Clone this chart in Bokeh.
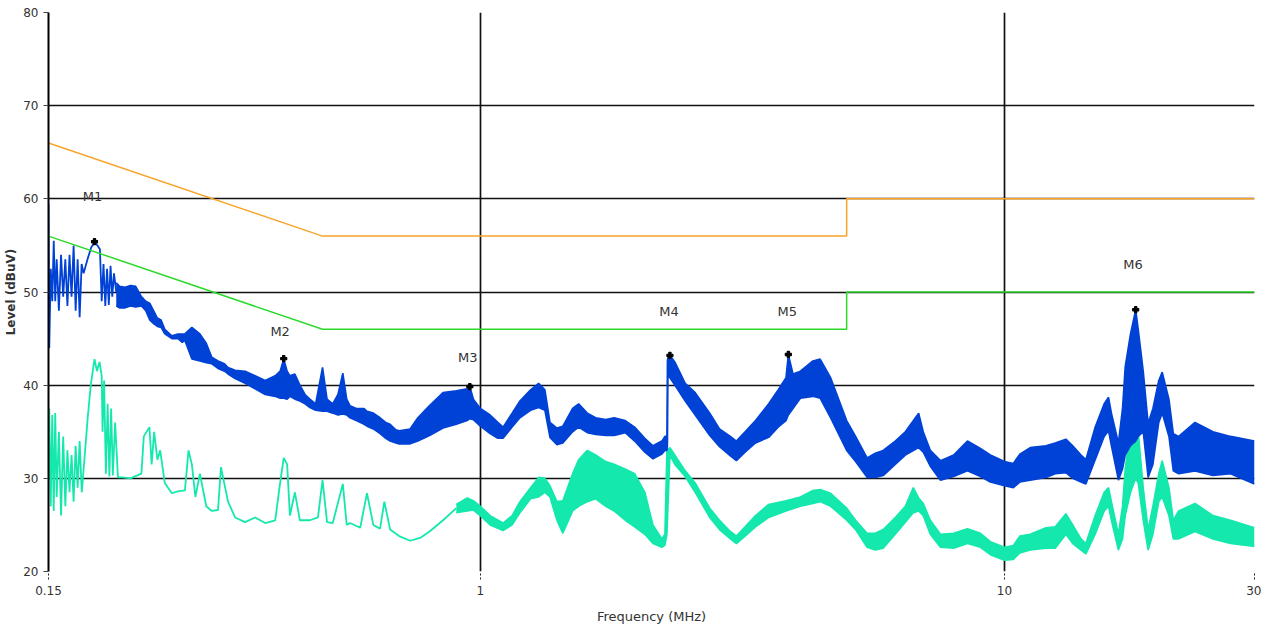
from bokeh.plotting import figure
from bokeh.models import FixedTicker, Range1d
from bokeh.embed import file_html
from bokeh.resources import INLINE
from bokeh.core.properties import value

FONT = "DejaVu Sans"
TXT = "#333333"

# ---------------- data ----------------
x_ticks = [0.15, 1, 10, 30]
x_tick_labels = ["0.15", "1", "10", "30"]
y_ticks = [20, 30, 40, 50, 60, 70, 80]

# limit lines (MHz, dBuV)
limit_f = [0.15, 0.5, 5.0, 5.0, 30.0]
qp_limit = [66, 56, 56, 60, 60]
av_limit = [56, 46, 46, 50, 50]

# peak trace (blue): low-frequency single-valued part
blue_zig_f = [0.1500, 0.1505, 0.1515, 0.1525, 0.1535, 0.1545, 0.1555, 0.1570, 0.1585, 0.1600,
              0.1615, 0.1630, 0.1645, 0.1660, 0.1675, 0.1690, 0.1705, 0.1720, 0.1735, 0.1750,
              0.1780, 0.1810, 0.1836, 0.1860, 0.1880, 0.1895, 0.1910, 0.1925, 0.1940, 0.1955,
              0.1970, 0.1985, 0.2000, 0.2020]
blue_zig_db = [59.5, 44.0, 52.5, 49.0, 55.5, 49.0, 53.5, 48.0, 54.0, 49.5,
               53.5, 48.5, 54.0, 49.5, 55.0, 48.0, 53.5, 47.3, 53.0, 52.0,
               53.5, 54.8, 55.3, 55.0, 54.6, 49.0, 53.0, 48.5, 52.5, 48.6,
               52.8, 49.5, 52.0, 50.0]

# peak trace (blue): band part, low and high envelope
blue_f = [0.202, 0.205, 0.210, 0.215, 0.220, 0.2256, 0.230, 0.234, 0.238, 0.242,
          0.246, 0.250, 0.2579, 0.265, 0.270, 0.2731, 0.2816, 0.2917, 0.300, 0.3074,
          0.3159, 0.325, 0.3301, 0.3405, 0.3558, 0.3718, 0.3886, 0.4061, 0.415, 0.4216,
          0.428, 0.4332, 0.4428, 0.4526, 0.463, 0.473, 0.485, 0.500, 0.510, 0.5229,
          0.535, 0.5466, 0.556, 0.564, 0.580, 0.600, 0.6078, 0.625, 0.6437, 0.660,
          0.6728, 0.690, 0.700, 0.7345, 0.760, 0.800, 0.849, 0.900, 0.9438, 0.955,
          0.970, 1.000, 1.044, 1.080, 1.105, 1.150, 1.190, 1.247, 1.292, 1.328,
          1.358, 1.400, 1.437, 1.500, 1.540, 1.600, 1.660, 1.735, 1.800, 1.890,
          1.970, 2.060, 2.135, 2.220, 2.250, 2.270, 2.275, 2.280, 2.300, 2.350,
          2.460, 2.570, 2.740, 2.860, 3.000, 3.080, 3.200, 3.350, 3.550, 3.700,
          3.830, 3.870, 3.950, 4.080, 4.310, 4.450, 4.660, 5.000, 5.200, 5.470,
          5.670, 5.870, 6.190, 6.470, 6.860, 7.000, 7.220, 7.550, 8.000, 8.500,
          9.000, 9.400, 10.00, 10.40, 10.70, 11.20, 12.00, 12.50, 13.10, 13.50,
          14.00, 14.30, 14.90, 15.50, 15.80, 16.00, 16.50, 16.80, 17.00, 17.40,
          17.80, 18.00, 18.40, 18.80, 19.20, 19.70, 20.00, 20.60, 21.00, 21.50,
          23.10, 25.00, 27.00, 30.00]
blue_lo = [48.5, 48.3, 48.3, 48.5, 48.4, 48.5, 48.0, 47.0, 46.6, 46.3,
           46.2, 45.5, 45.0, 45.0, 44.6, 44.8, 42.8, 42.6, 42.4, 42.3,
           41.8, 41.5, 41.2, 40.7, 40.2, 39.6, 39.0, 38.8, 38.6, 38.6,
           38.5, 38.8, 38.5, 38.3, 38.0, 37.6, 37.3, 37.2, 37.2, 37.0,
           36.8, 36.9, 36.8, 36.5, 36.2, 35.8, 35.6, 35.3, 34.8, 34.3,
           34.0, 33.8, 33.7, 33.7, 34.0, 34.6, 35.4, 35.8, 36.2, 36.4,
           36.3, 35.6, 34.8, 34.3, 34.3, 35.5, 36.5, 37.3, 37.6, 37.3,
           34.4, 33.6, 33.8, 35.0, 35.5, 34.9, 34.7, 34.6, 34.6, 34.9,
           34.0, 32.8, 32.1, 32.6, 33.0, 33.0, 33.5, 41.0, 40.8, 40.0,
           38.3, 36.8, 34.6, 33.4, 32.4, 31.9, 32.8, 33.8, 34.4, 35.5,
           36.2, 36.8, 37.5, 38.6, 38.8, 38.6, 36.5, 33.0, 31.8, 30.1,
           30.1, 30.3, 31.5, 32.5, 33.3, 32.8, 31.3, 29.8, 30.2, 30.8,
           30.2, 29.6, 29.2, 29.0, 29.6, 29.8, 30.1, 30.5, 30.6, 30.0,
           29.6, 29.4, 32.0, 34.5, 35.1, 33.5, 29.8, 31.0, 32.5, 33.5,
           34.0, 34.5, 35.0, 30.1, 31.5, 36.0, 37.0, 34.5, 30.8, 30.5,
           30.8, 30.3, 30.5, 29.4]
blue_hi = [51.0, 50.6, 50.5, 50.7, 50.6, 49.5, 49.0, 48.8, 48.0, 47.2,
           47.0, 46.0, 45.3, 45.5, 45.5, 45.5, 46.2, 45.5, 44.5, 43.0,
           42.6, 42.3, 41.9, 41.6, 41.5, 41.0, 40.5, 41.0, 41.5, 42.8,
           41.5, 41.0, 41.2, 40.0, 39.0, 38.5, 38.0, 41.9, 38.5, 38.0,
           39.0, 41.3, 38.5, 37.8, 37.5, 37.5, 37.2, 37.0, 36.5, 36.0,
           35.8, 35.2, 35.1, 35.3, 36.5, 37.8, 39.2, 39.4, 39.6, 39.85,
           38.5, 37.5, 36.8, 36.0, 35.5, 37.0, 38.3, 39.5, 40.2, 39.5,
           36.0, 35.4, 35.6, 37.5, 38.0, 37.0, 36.5, 36.3, 36.5, 36.2,
           35.5, 34.3, 33.5, 34.0, 34.5, 34.5, 42.6, 43.0, 43.2, 42.5,
           40.2, 39.2, 37.0, 35.3, 34.5, 34.0, 35.0, 36.2, 38.0, 39.5,
           40.8, 43.3, 41.2, 41.5, 42.6, 42.8, 40.8, 36.2, 34.5, 32.2,
           32.7, 33.0, 34.0, 35.0, 37.0, 35.0, 33.0, 31.9, 32.5, 34.0,
           33.2, 32.5, 31.8, 31.6, 32.6, 33.3, 33.5, 33.8, 34.2, 33.5,
           32.5, 32.0, 35.5, 38.0, 38.7, 37.0, 33.8, 37.5, 42.0, 45.5,
           48.1, 46.0, 41.5, 35.9, 37.5, 40.5, 41.4, 38.5, 34.8, 34.5,
           36.0, 35.0, 34.5, 34.0]

# average trace (cyan): low-frequency single-valued part
cyan_zig_f = [0.1500, 0.1505, 0.1515, 0.1525, 0.1535, 0.1545, 0.1555, 0.1570, 0.1585, 0.1600,
              0.1615, 0.1630, 0.1645, 0.1660, 0.1675, 0.1690, 0.1705, 0.1720, 0.1736, 0.1759,
              0.1782, 0.1806, 0.1836, 0.1856, 0.1877, 0.1895, 0.1902, 0.1915, 0.1930, 0.1945,
              0.1960, 0.1975, 0.1990, 0.2010, 0.2035, 0.2076, 0.2150, 0.2256, 0.2280, 0.2337,
              0.2360, 0.2386, 0.2420, 0.2450, 0.2500, 0.2579, 0.2648, 0.2731, 0.2775, 0.2816,
              0.2860, 0.2917, 0.3000, 0.3074, 0.3159, 0.3200, 0.3301, 0.3405, 0.3558, 0.3718,
              0.3886, 0.4061, 0.4150, 0.4216, 0.4280, 0.4332, 0.4428, 0.4526, 0.4730, 0.4900,
              0.5000, 0.5100, 0.5229, 0.5466, 0.5560, 0.5640, 0.5900, 0.6078, 0.6250, 0.6437,
              0.6560, 0.6728, 0.7000, 0.7345, 0.7675, 0.8000, 0.8490, 0.9000]
cyan_zig_db = [30.0, 37.5, 27.0, 36.8, 26.5, 37.0, 28.0, 35.0, 26.0, 34.5,
               27.0, 33.0, 28.5, 32.5, 27.5, 33.5, 29.0, 34.0, 28.5, 32.5,
               36.5, 40.0, 42.8, 41.5, 42.5, 41.0, 35.0, 40.5, 30.5, 38.0,
               30.2, 37.5, 30.3, 36.0, 30.1, 30.1, 30.0, 30.5, 34.5, 35.5,
               31.5, 35.0, 32.0, 33.0, 29.5, 28.4, 28.6, 28.7, 33.0, 31.5,
               28.0, 30.5, 27.0, 26.5, 26.6, 31.2, 27.5, 25.8, 25.3, 25.8,
               25.2, 25.5, 29.5, 32.2, 31.5, 26.0, 28.5, 25.5, 25.5, 25.8,
               29.8, 25.3, 25.2, 29.4, 25.0, 25.2, 24.7, 28.4, 25.0, 24.6,
               27.5, 24.5, 23.8, 23.3, 23.6, 24.3, 25.5, 26.8]

# average trace (cyan): band part
cyan_f = [0.9000, 0.9438, 0.970, 1.000, 1.044, 1.105, 1.150, 1.190, 1.247, 1.292,
          1.328, 1.358, 1.400, 1.437, 1.500, 1.540, 1.600, 1.660, 1.735, 1.800,
          1.890, 1.970, 2.060, 2.135, 2.220, 2.250, 2.270, 2.300, 2.350, 2.460,
          2.570, 2.740, 2.860, 3.000, 3.080, 3.200, 3.350, 3.550, 3.830, 4.080,
          4.310, 4.450, 4.660, 5.000, 5.200, 5.470, 5.670, 5.870, 6.190, 6.470,
          6.700, 6.860, 7.000, 7.220, 7.550, 8.000, 8.500, 9.000, 9.400, 10.00,
          10.40, 10.70, 11.20, 12.00, 12.50, 13.10, 13.50, 14.00, 14.30, 14.90,
          15.50, 15.80, 16.00, 16.50, 16.80, 17.00, 17.40, 17.80, 18.00, 18.40,
          18.80, 19.20, 19.70, 20.00, 20.60, 21.00, 21.50, 23.10, 25.00, 27.00,
          30.00]
cyan_lo = [26.3, 26.5, 26.6, 26.0, 25.0, 24.4, 25.0, 26.3, 27.8, 28.0,
           28.5, 28.0, 25.5, 24.1, 26.5, 27.0, 27.5, 27.8, 27.0, 26.5,
           25.5, 24.8, 24.0, 23.0, 22.6, 22.8, 24.0, 32.5, 31.5, 30.2,
           28.5, 25.8, 24.5, 23.5, 23.0, 23.8, 24.8, 25.8, 26.5, 27.0,
           27.3, 27.5, 27.0, 25.5, 24.5, 22.6, 22.3, 22.5, 24.0, 25.3,
           26.3, 26.5, 26.0, 24.0, 22.6, 22.5, 23.0, 22.6, 21.8, 21.2,
           21.3, 22.0, 22.3, 22.5, 22.5, 24.0, 23.0, 22.3, 21.9, 24.0,
           26.5, 27.0, 25.5, 22.3, 23.5, 26.0, 28.5, 30.0, 29.5, 25.5,
           22.3, 24.0, 27.5, 28.0, 26.0, 23.5, 23.5, 24.3, 23.5, 23.0,
           22.7]
cyan_hi = [27.2, 27.9, 27.6, 27.0, 26.0, 25.2, 26.0, 27.5, 29.0, 30.1,
           30.0, 29.2, 27.5, 27.6, 30.5, 32.0, 33.0, 32.5, 31.8, 31.5,
           31.0, 30.5, 28.5, 25.0, 23.5, 24.0, 33.0, 33.3, 32.5, 30.8,
           29.5, 26.8, 25.5, 24.3, 23.8, 24.8, 26.0, 27.2, 27.6, 28.0,
           28.7, 28.8, 28.4, 26.8, 25.5, 24.1, 24.1, 24.5, 25.8, 27.0,
           29.0, 27.9, 27.3, 25.5, 24.0, 24.1, 24.6, 24.1, 23.2, 22.6,
           22.8, 23.8, 24.0, 24.7, 24.8, 26.2, 25.0, 23.5, 23.0, 26.0,
           28.5, 29.0, 27.5, 24.0, 27.0, 31.0, 35.5, 37.6, 35.0, 29.0,
           24.5, 27.0, 30.5, 31.9, 29.0, 25.5, 26.5, 27.3, 26.0, 25.5,
           24.7]

# markers
mk_names = ["M1", "M2", "M3", "M4", "M5", "M6"]
mk_f = [0.1836, 0.4216, 0.955, 2.30, 3.87, 17.8]
mk_db = [55.4, 42.85, 39.85, 43.2, 43.3, 48.1]
mk_label_f = [0.182, 0.415, 0.946, 2.29, 3.85, 17.6]
mk_label_db = [60.3, 45.75, 43.0, 47.9, 47.9, 52.9]

BLUE = "#0042D6"
CYAN = "#14E8AC"
ORANGE = "#F8A42A"
GREEN = "#2CDA2C"

# ---------------- figure ----------------
p = figure(width=1261, height=630, x_axis_type="log",
           x_range=Range1d(0.15, 30), y_range=Range1d(20, 80),
           output_backend="svg", toolbar_location=None,
           min_border_left=48, min_border_right=7, min_border_top=12, min_border_bottom=59)
p.outline_line_color = None
p.background_fill_color = "white"
p.border_fill_color = "white"

# grid
p.xgrid.ticker = FixedTicker(ticks=[1, 10, 30])
p.ygrid.ticker = FixedTicker(ticks=[30, 40, 50, 60, 70])
p.grid.grid_line_color = "#111111"
p.grid.grid_line_width = 1.7
p.grid.grid_line_alpha = 1.0

# x axis
xa = p.xaxis[0]
xa.ticker = FixedTicker(ticks=x_ticks)
xa.major_label_overrides = {t: l for t, l in zip(x_ticks, x_tick_labels)}
xa.minor_tick_line_color = None
xa.axis_line_color = None
xa.major_tick_in = 0
xa.major_tick_out = 8
xa.major_tick_line_color = "#222222"
xa.major_tick_line_dash = "2 2"
xa.major_label_standoff = 6
xa.axis_label = "Frequency (MHz)"
xa.axis_label_standoff = 11
xa.axis_label_text_font_style = "normal"
xa.axis_label_text_font_size = "13px"

# y axis
ya = p.yaxis[0]
ya.ticker = FixedTicker(ticks=y_ticks)
ya.minor_tick_line_color = None
ya.axis_line_color = "black"
ya.axis_line_width = 2
ya.major_tick_in = 0
ya.major_tick_out = 5
ya.major_tick_line_color = "#444444"
ya.major_label_standoff = 5
ya.axis_label = "Level (dBuV)"
ya.axis_label_standoff = 2
ya.axis_label_text_font_style = "bold"
ya.axis_label_text_font_size = "12px"

for ax in (xa, ya):
    ax.major_label_text_font = FONT
    ax.major_label_text_font_size = "12px"
    ax.major_label_text_color = TXT
    ax.axis_label_text_font = FONT
    ax.axis_label_text_color = TXT

# average trace
p.line(cyan_zig_f, cyan_zig_db, line_color=CYAN, line_width=1.8)
p.varea(x=cyan_f, y1=cyan_lo, y2=cyan_hi, fill_color=CYAN)
p.line(cyan_f, cyan_lo, line_color=CYAN, line_width=1.6)
p.line(cyan_f, cyan_hi, line_color=CYAN, line_width=1.6)

# peak trace
p.line(blue_zig_f, blue_zig_db, line_color=BLUE, line_width=1.8)
p.varea(x=blue_f, y1=blue_lo, y2=blue_hi, fill_color=BLUE)
p.line(blue_f, blue_lo, line_color=BLUE, line_width=1.6)
p.line(blue_f, blue_hi, line_color=BLUE, line_width=1.6)

# limit lines
p.line(limit_f, qp_limit, line_color=ORANGE, line_width=1.5)
p.line(limit_f, av_limit, line_color=GREEN, line_width=1.5)

# markers
p.scatter(mk_f, mk_db, marker="plus", size=6, color="black", line_width=1.2)
p.text(mk_label_f, mk_label_db, text=mk_names, text_font=value(FONT), text_font_size="13px",
       text_color=TXT, text_align="center", text_baseline="middle")

open("out.html", "w").write(file_html(p, INLINE))
